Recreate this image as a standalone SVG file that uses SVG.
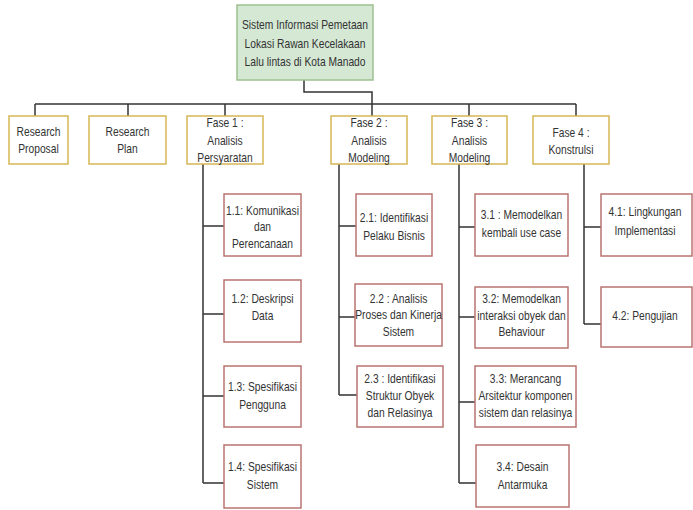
<svg xmlns="http://www.w3.org/2000/svg" width="693" height="510" viewBox="0 0 693 510">
  <style>
    text { font-family: "Liberation Sans", Arial, sans-serif; font-size: 13px; fill: #333; text-anchor: middle;
           transform-box: fill-box; transform-origin: center; transform: scaleX(0.79); }
    .root { fill: #d5e8d4; stroke: #9cc08e; stroke-width: 1.5; }
    .phase { fill: #ffffff; stroke: #d6b656; stroke-width: 1.5; }
    .task { fill: #ffffff; stroke: #b87470; stroke-width: 1.5; }
    .wire { fill: none; stroke: #333; stroke-width: 1.5; }
  </style>
  <rect width="693" height="510" fill="#ffffff"/>

  <g id="connectors">
    <path class="wire" d="M304 80 V92 H372 V116"/>
    <path class="wire" d="M35 104 H576"/>
    <path class="wire" d="M35 104 V116 M128 104 V116 M225 104 V116 M469 104 V116 M576 104 V116"/>
    <!-- Fase 1 branch -->
    <path class="wire" d="M203 164 V483 M203 226 H224 M203 314 H224 M203 396 H224 M203 483 H224"/>
    <!-- Fase 2 branch -->
    <path class="wire" d="M339 164 V395 M339 226 H356 M339 317 H355 M339 395 H357"/>
    <!-- Fase 3 branch -->
    <path class="wire" d="M459 164 V483 M459 227 H475 M459 317 H475 M459 402 H475 M459 483 H476"/>
    <!-- Fase 4 branch -->
    <path class="wire" d="M584 164 V324 M584 227 H601 M584 324 H601"/>
  </g>

  <g id="root">
    <rect class="root" x="237" y="5" width="136" height="75"/>
    <text x="305" y="29.5">Sistem Informasi Pemetaan</text>
    <text x="305" y="48">Lokasi Rawan Kecelakaan</text>
    <text x="305" y="66">Lalu lintas di Kota Manado</text>
  </g>

  <g id="research-proposal">
    <rect class="phase" x="9" y="116" width="59" height="48"/>
    <text x="38.5" y="136.5">Research</text>
    <text x="38.5" y="153.5">Proposal</text>
  </g>
  <g id="research-plan">
    <rect class="phase" x="89" y="116" width="77" height="48"/>
    <text x="127.5" y="136.5">Research</text>
    <text x="127.5" y="153.5">Plan</text>
  </g>
  <g id="fase-1">
    <rect class="phase" x="187" y="116" width="76" height="48"/>
    <text x="225" y="127.5">Fase 1 :</text>
    <text x="225" y="145">Analisis</text>
    <text x="225" y="162">Persyaratan</text>
  </g>
  <g id="fase-2">
    <rect class="phase" x="331" y="116" width="76" height="48"/>
    <text x="369" y="127.5">Fase 2 :</text>
    <text x="369" y="145">Analisis</text>
    <text x="369" y="162">Modeling</text>
  </g>
  <g id="fase-3">
    <rect class="phase" x="432" y="116" width="75" height="48"/>
    <text x="469.5" y="127.5">Fase 3 :</text>
    <text x="469.5" y="145">Analisis</text>
    <text x="469.5" y="162">Modeling</text>
  </g>
  <g id="fase-4">
    <rect class="phase" x="533" y="116" width="76" height="48"/>
    <text x="571" y="137.5">Fase 4 :</text>
    <text x="571" y="154.5">Konstrulsi</text>
  </g>

  <g id="task-1-1">
    <rect class="task" x="224" y="194" width="77" height="62"/>
    <text x="262.5" y="215">1.1: Komunikasi</text>
    <text x="262.5" y="231.5">dan</text>
    <text x="262.5" y="248">Perencanaan</text>
  </g>
  <g id="task-1-2">
    <rect class="task" x="224" y="280" width="77" height="62"/>
    <text x="262.5" y="303">1.2: Deskripsi</text>
    <text x="262.5" y="320.5">Data</text>
  </g>
  <g id="task-1-3">
    <rect class="task" x="224" y="366" width="77" height="61"/>
    <text x="262.5" y="391.5">1.3: Spesifikasi</text>
    <text x="262.5" y="409">Pengguna</text>
  </g>
  <g id="task-1-4">
    <rect class="task" x="224" y="445" width="77" height="63"/>
    <text x="262.5" y="471.5">1.4: Spesifikasi</text>
    <text x="262.5" y="489">Sistem</text>
  </g>

  <g id="task-2-1">
    <rect class="task" x="356" y="194" width="76" height="62"/>
    <text x="394" y="222.5">2.1: Identifikasi</text>
    <text x="394" y="240">Pelaku Bisnis</text>
  </g>
  <g id="task-2-2">
    <rect class="task" x="355" y="284" width="87" height="62"/>
    <text x="398.5" y="303">2.2 : Analisis</text>
    <text x="398.5" y="319.5">Proses dan Kinerja</text>
    <text x="398.5" y="336">Sistem</text>
  </g>
  <g id="task-2-3">
    <rect class="task" x="357" y="366" width="86" height="61"/>
    <text x="400" y="383">2.3 : Identifikasi</text>
    <text x="400" y="400">Struktur Obyek</text>
    <text x="400" y="417">dan Relasinya</text>
  </g>

  <g id="task-3-1">
    <rect class="task" x="475" y="194" width="93" height="62"/>
    <text x="521.5" y="219.5">3.1 : Memodelkan</text>
    <text x="521.5" y="237">kembali use case</text>
  </g>
  <g id="task-3-2">
    <rect class="task" x="475" y="287" width="93" height="61"/>
    <text x="521.5" y="303">3.2: Memodelkan</text>
    <text x="521.5" y="320">interaksi obyek dan</text>
    <text x="521.5" y="336.5">Behaviour</text>
  </g>
  <g id="task-3-3">
    <rect class="task" x="475" y="366" width="101" height="61"/>
    <text x="525.5" y="383">3.3: Merancang</text>
    <text x="525.5" y="400">Arsitektur komponen</text>
    <text x="525.5" y="417">sistem dan relasinya</text>
  </g>
  <g id="task-3-4">
    <rect class="task" x="476" y="445" width="93" height="62"/>
    <text x="522.5" y="471.5">3.4: Desain</text>
    <text x="522.5" y="489">Antarmuka</text>
  </g>

  <g id="task-4-1">
    <rect class="task" x="601" y="194" width="91" height="62"/>
    <text x="645" y="216.5">4.1: Lingkungan</text>
    <text x="645" y="235">Implementasi</text>
  </g>
  <g id="task-4-2">
    <rect class="task" x="601" y="287" width="91" height="60"/>
    <text x="645" y="320">4.2: Pengujian</text>
  </g>
</svg>
